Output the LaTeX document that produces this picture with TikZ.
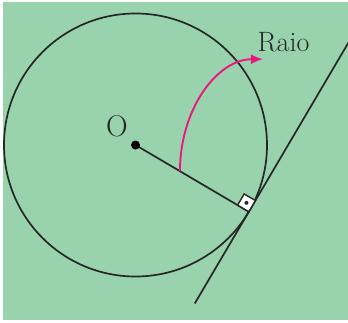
\documentclass[tikz,border=0pt]{standalone}
\usepackage{fontspec}
\usepackage{tikz}
\usetikzlibrary{arrows.meta,calc}
\definecolor{fundo}{HTML}{99D3AD}
\definecolor{rosa}{HTML}{E6197F}
\tikzset{
  traco/.style={line width=1.7pt,draw=black!85},
  rotulo/.style={font=\fontsize{28}{32}\selectfont,text=black!85,inner sep=0pt}
}

\begin{document}
\begin{tikzpicture}[x=1pt,y=1pt]
\useasboundingbox (0,0) rectangle (348,322);
\fill[white] (0,0) rectangle (348,322);
\fill[fundo] (3,2) rectangle (348,320);
\clip (3,2) rectangle (348,320);
% circulo, raio e reta tangente
\coordinate (O) at (135.5,177);
\coordinate (T) at ($(O)+(-30.5:131.5)$);
\coordinate (S) at ($(O)+(-30.5:51.6)$);
\coordinate (baixo) at ($(T)+(239.5:106.5)$);
\coordinate (cima) at ($(T)+(59.5:200)$);
\draw[traco] (O) circle (131.5);
\draw[traco] (O) -- (T);
\draw[traco] (baixo) -- (cima);
% angulo reto
\begin{scope}[shift={(T)},rotate=-30.5]
\filldraw[fill=white,draw=black!85,line width=1.4pt] (-13,0) rectangle (0,13);
\fill[black!85] (-6.5,6.5) circle (2);
\end{scope}
% seta
\draw[rosa,line width=1.9pt,-{Latex[length=12pt,width=10pt]}] (S) arc[start angle=180,end angle=90,x radius=83,y radius=112];
\fill[black] (O) circle (4.5);
\node[rotulo,anchor=base] (raio) at (283.5,270) {Raio};
\node[rotulo,font=\fontsize{30}{34}\selectfont] (o) at (117,195.5) {O};
\end{tikzpicture}
\end{document}
